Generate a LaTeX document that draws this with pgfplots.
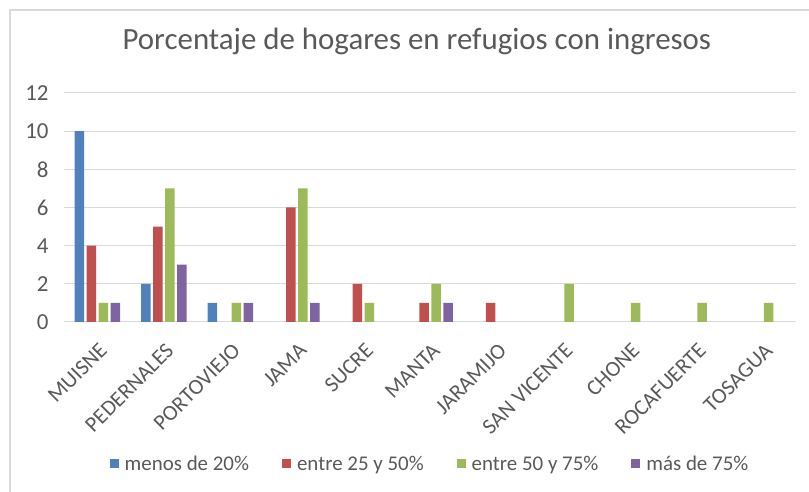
\documentclass[border=0pt]{standalone}
\usepackage{pgfplots}
\pgfplotsset{compat=1.18}
\usepackage{fontspec}
\setmainfont{Carlito}
\definecolor{txt}{HTML}{595959}
\definecolor{grd}{HTML}{D9D9D9}
\definecolor{c1}{HTML}{4F81BD}
\definecolor{c2}{HTML}{C0504D}
\definecolor{c3}{HTML}{9BBB59}
\definecolor{c4}{HTML}{8064A2}
\pgfplotsset{mylegend/.style={legend image code/.code={\fill[##1] (0bp,-4.5bp) rectangle (9bp,4.5bp);}}}
\begin{document}
\begin{tikzpicture}[x=1bp,y=1bp]
\useasboundingbox (0,0) rectangle (809,492);
\draw[grd, line width=1.5bp] (10,0) -- (10,482) -- (809,482);
\begin{axis}[
  at={(64bp,170bp)}, anchor=south west,
  scale only axis, width=732bp, height=229bp,
  ybar=2.5bp, bar width=9.5bp,
  ymin=0, ymax=12, ytick={0,2,...,12},
  ymajorgrids, grid style={grd, line width=1bp},
  xmin=-0.5, xmax=10.5, xtick={0,...,10},
  xticklabels={MUISNE,PEDERNALES,PORTOVIEJO,JAMA,SUCRE,MANTA,JARAMIJO,SAN VICENTE,CHONE,ROCAFUERTE,TOSAGUA},
  axis line style={draw=none}, major tick length=0pt,
  tick label style={text=txt},
  /pgf/number format/assume math mode=true,
  xticklabel style={font=\fontsize{22}{26}\selectfont, rotate=45, anchor=east, xshift=-10bp, yshift=-22bp},
  yticklabel style={font=\fontsize{23}{27}\selectfont, xshift=-12bp},
  title={Porcentaje de hogares en refugios con ingresos},
  title style={font=\fontsize{31}{36}\selectfont, text=txt, at={(0.482,1)}, anchor=base, yshift=38bp},
  legend style={at={(0.5,-0.62)}, anchor=center, draw=none, fill=none, legend columns=4,
    font=\fontsize{21}{24}\selectfont, text=txt,
    /tikz/every odd column/.style={column sep=4bp},
    /tikz/every even column/.style={column sep=31bp}},
  legend cell align=left,
]
\addplot[fill=c1, draw=none, mylegend] coordinates {(0,10) (1,2) (2,1)};
\addplot[fill=c2, draw=none, mylegend] coordinates {(0,4) (1,5) (3,6) (4,2) (5,1) (6,1)};
\addplot[fill=c3, draw=none, mylegend] coordinates {(0,1) (1,7) (2,1) (3,7) (4,1) (5,2) (7,2) (8,1) (9,1) (10,1)};
\addplot[fill=c4, draw=none, mylegend] coordinates {(0,1) (1,3) (2,1) (3,1) (5,1)};
\legend{menos de 20\%, entre 25 y 50\%, entre 50 y 75\%, más de 75\%}
\end{axis}
\end{tikzpicture}
\end{document}
